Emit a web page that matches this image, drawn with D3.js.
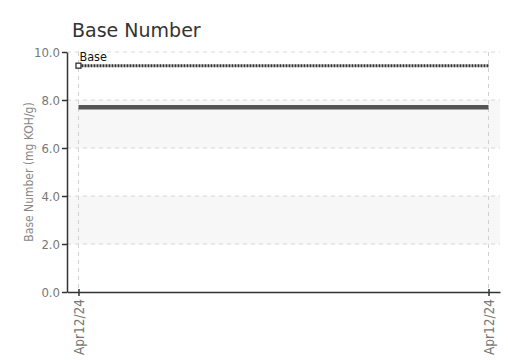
<!DOCTYPE html>
<html>
<head>
<meta charset="utf-8">
<script src="https://cdn.jsdelivr.net/npm/d3@7"></script>
<style>
body { margin: 0; background: #fff; }
svg text { font-family: "DejaVu Sans Condensed", "Liberation Sans Narrow", sans-serif; }
</style>
</head>
<body>
<div id="chart"></div>
<script>
var sampleDates = ["Apr12/24", "Apr12/24"];
var baseNumber = [7.7, 7.7];
var baseLimit = [9.43, 9.43];
var yTicks = [0, 2, 4, 6, 8, 10];
var bands = [[2, 4], [6, 8]];

var width = 508,
    height = 360;
var margin = { top: 52, right: 8, bottom: 68, left: 67 };
var innerW = width - margin.left - margin.right,
    innerH = height - margin.top - margin.bottom;

var svg = d3.select("#chart").append("svg")
    .attr("width", width)
    .attr("height", height);

var g = svg.append("g")
    .attr("transform", "translate(" + margin.left + "," + margin.top + ")");

var x = d3.scalePoint()
    .domain(d3.range(sampleDates.length))
    .range([0, innerW])
    .padding(0.028);

var y = d3.scaleLinear()
    .domain([0, 10])
    .range([innerH, 0]);

// shaded bands
g.selectAll("rect.band")
    .data(bands)
    .join("rect")
    .attr("class", "band")
    .attr("x", 0)
    .attr("width", innerW)
    .attr("y", function (d) { return y(d[1]); })
    .attr("height", function (d) { return y(d[0]) - y(d[1]); })
    .attr("fill", "#f7f7f7");

// horizontal grid
g.selectAll("line.hgrid")
    .data(yTicks.filter(function (d) { return d > 0; }))
    .join("line")
    .attr("class", "hgrid")
    .attr("x1", 0)
    .attr("x2", innerW)
    .attr("y1", function (d) { return y(d); })
    .attr("y2", function (d) { return y(d); })
    .attr("stroke", "#d8d8d8")
    .attr("stroke-dasharray", "4,4");

// vertical grid
g.selectAll("line.vgrid")
    .data(d3.range(sampleDates.length))
    .join("line")
    .attr("class", "vgrid")
    .attr("x1", function (d) { return x(d); })
    .attr("x2", function (d) { return x(d); })
    .attr("y1", 0)
    .attr("y2", innerH)
    .attr("stroke", "#d0d0d0")
    .attr("stroke-dasharray", "4,4");

// base limit line (dotted)
var line = d3.line()
    .x(function (d, i) { return x(i); })
    .y(function (d) { return y(d); });

g.append("path")
    .datum(baseLimit)
    .attr("d", line)
    .attr("fill", "none")
    .attr("stroke", "#333")
    .attr("stroke-width", 3)
    .attr("stroke-dasharray", "2,1");

g.append("rect")
    .attr("x", x(0) - 2.5)
    .attr("y", y(baseLimit[0]) - 2.5)
    .attr("width", 5)
    .attr("height", 5)
    .attr("fill", "#fff")
    .attr("stroke", "#222")
    .attr("stroke-width", 1.2);

g.append("text")
    .attr("x", x(0) + 1)
    .attr("y", y(baseLimit[0]) - 5)
    .attr("font-size", 12.5)
    .attr("fill", "#111")
    .text("Base");

// main series
g.append("path")
    .datum(baseNumber)
    .attr("d", line)
    .attr("fill", "none")
    .attr("stroke", "#555")
    .attr("stroke-width", 4.5);

// axes
var yAxis = g.append("g")
    .call(d3.axisLeft(y).tickValues(yTicks).tickFormat(d3.format(".1f")).tickSize(5).tickSizeOuter(0));
yAxis.select(".domain").attr("stroke", "#333").attr("stroke-width", 1.5);
yAxis.selectAll(".tick line").attr("stroke", "#333").attr("stroke-width", 1.5);
yAxis.selectAll(".tick text")
    .attr("font-size", 13)
    .attr("fill", "#777")
    .attr("x", -7);

var xAxis = g.append("g")
    .attr("transform", "translate(0," + innerH + ")")
    .call(d3.axisBottom(x).tickFormat(function (i) { return sampleDates[i]; }).tickSize(5).tickSizeOuter(0));
xAxis.select(".domain").attr("stroke", "#333").attr("stroke-width", 1.5);
xAxis.selectAll(".tick line").attr("stroke", "#333").attr("stroke-width", 1.5)
    .attr("y1", -3).attr("y2", 4);
xAxis.selectAll(".tick text")
    .attr("font-size", 13.5)
    .attr("fill", "#777")
    .attr("transform", "rotate(-90)")
    .attr("text-anchor", "end")
    .attr("x", -7)
    .attr("y", 0)
    .attr("dy", "0.35em");

// y axis label
svg.append("text")
    .attr("transform", "translate(33," + (margin.top + innerH / 2) + ") rotate(-90)")
    .attr("text-anchor", "middle")
    .attr("font-size", 12)
    .attr("fill", "#888")
    .text("Base Number (mg KOH/g)");

// title
svg.append("text")
    .attr("x", 72)
    .attr("y", 37)
    .attr("font-size", 19)
    .attr("fill", "#333")
    .style("font-family", "'DejaVu Sans', sans-serif")
    .text("Base Number");
</script>
</body>
</html>
